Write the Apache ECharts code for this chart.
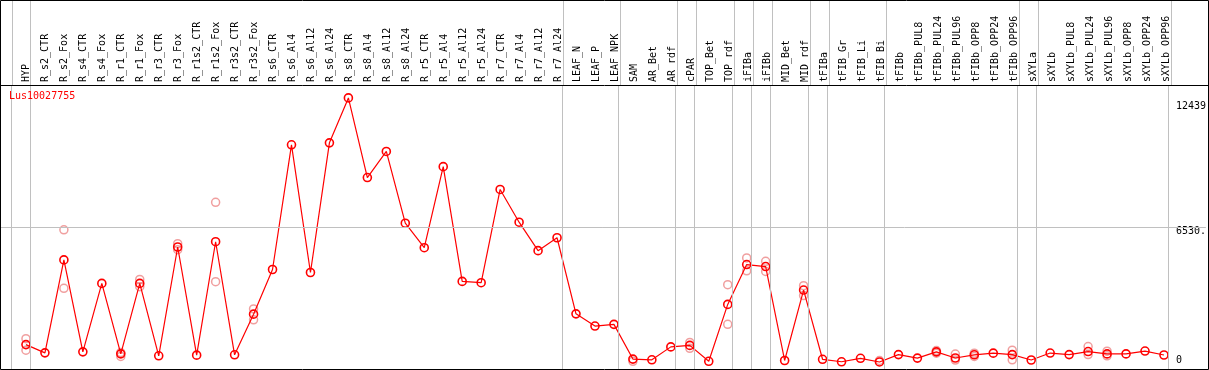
<!DOCTYPE html>
<html>
<head>
<meta charset="utf-8">
<script src="https://cdn.jsdelivr.net/npm/echarts@6/dist/echarts.min.js"></script>
<style>html,body{margin:0;padding:0;background:#fff}#c{width:1209px;height:370px}</style>
</head>
<body>
<div id="c"></div>
<script>
const geneName = 'Lus10027755';
const categories = ['HYP','R_s2_CTR','R_s2_Fox','R_s4_CTR','R_s4_Fox','R_r1_CTR','R_r1_Fox','R_r3_CTR','R_r3_Fox','R_r1s2_CTR','R_r1s2_Fox','R_r3s2_CTR','R_r3s2_Fox','R_s6_CTR','R_s6_Al4','R_s6_Al12','R_s6_Al24','R_s8_CTR','R_s8_Al4','R_s8_Al12','R_s8_Al24','R_r5_CTR','R_r5_Al4','R_r5_Al12','R_r5_Al24','R_r7_CTR','R_r7_Al4','R_r7_Al12','R_r7_Al24','LEAF_N','LEAF_P','LEAF_NPK','SAM','AR_Bet','AR_rdf','cPAR','TOP_Bet','TOP_rdf','iFIBa','iFIBb','MID_Bet','MID_rdf','tFIBa','tFIB_Gr','tFIB_Li','tFIB_Bi','tFIBb','tFIBb_PUL8','tFIBb_PUL24','tFIBb_PUL96','tFIBb_OPP8','tFIBb_OPP24','tFIBb_OPP96','sXYLa','sXYLb','sXYLb_PUL8','sXYLb_PUL24','sXYLb_PUL96','sXYLb_OPP8','sXYLb_OPP24','sXYLb_OPP96'];
const meanValues = [1161,785,5034,830,3959,739,3959,649,5623,680,5864,694,2553,4594,10294,4458,10385,12439,8798,9991,6712,5592,9297,4050,3991,8254,6757,5456,6045,2567,2009,2086,499,467,1057,1125,399,2998,4821,4730,435,3655,490,376,535,367,703,544,830,549,694,771,703,458,775,703,844,735,735,866,685];
const replicateA = [1433,null,6408,null,null,800,4140,null,5773,null,7664,null,2794,null,null,null,null,null,null,null,null,null,null,null,null,null,null,null,null,null,null,null,399,null,null,1261,null,3900,5125,4970,null,3855,null,null,null,435,null,null,889,726,771,null,907,null,null,null,1070,862,null,null,null];
const replicateB = [907,null,3732,null,null,620,3809,null,5501,null,4036,null,2295,null,null,null,null,null,null,null,null,null,null,null,null,null,null,null,null,null,null,null,null,null,null,989,null,2086,4535,4503,null,3401,null,null,null,null,null,null,771,454,617,null,467,null,null,null,707,649,null,null,null];
const groupEnds = [-1,0,28,31,34,35,37,38,39,41,42,45,52,53,60];
const tickValues = [0,6530,12439];
const tickLabels = ['0','6530.','12439'];

const FONT = 'DejaVu Sans Mono';
const xMin = -26/19, xMax = xMin + 1208/19;
const sepLines = groupEnds.map(g => ({xAxis: g + 0.25}));
const mlBase = {silent:true, symbol:'none', label:{show:false}, lineStyle:{color:'#c0c0c0', width:1, type:'solid'}, animation:false};
const repData = [];
replicateA.forEach((v,i)=>{ if(v!=null) repData.push([i,v]); });
replicateB.forEach((v,i)=>{ if(v!=null) repData.push([i,v]); });

const chart = echarts.init(document.getElementById('c'), null, {renderer:'canvas'});
chart.setOption({
  animation:false,
  backgroundColor:'#fff',
  title:{text:geneName, left:9, top:91, padding:0, textStyle:{fontFamily:FONT, fontSize:10, fontWeight:'normal', color:'#ff0000'}},
  grid:[
    {left:0, right:1, top:0, height:85},
    {left:0, right:1, top:85, bottom:-2.3}
  ],
  xAxis:[
    {gridIndex:0, type:'value', min:xMin, max:xMax, position:'bottom',
     axisLine:{show:false}, axisTick:{show:false}, splitLine:{show:false},
     axisLabel:{inside:true, rotate:90, margin:3, customValues:categories.map((c,i)=>i),
       formatter:v=>categories[Math.round(v)] || '', fontFamily:FONT, fontSize:10, color:'#000', padding:[0,0,6,0]}},
    {gridIndex:1, type:'value', min:xMin, max:xMax, show:false, splitLine:{show:false}}
  ],
  yAxis:[
    {gridIndex:0, type:'value', min:0, max:1, show:false},
    {gridIndex:1, type:'value', min:0, max:287.3/0.022051, position:'right',
     axisLine:{show:false}, axisTick:{show:false}, splitLine:{show:false},
     axisLabel:{inside:true, align:'left', margin:30, customValues:tickValues, showMinLabel:true, showMaxLabel:true,
       formatter:v=>{const k=tickValues.indexOf(v); const t=tickLabels[k]; return k===0?'{lo|'+t+'}':(k===1?'{mid|'+t+'}':'{hi|'+t+'}');},
       rich:{lo:{padding:[0,0,20,0], fontFamily:FONT, fontSize:10, color:'#000'},
             mid:{padding:[8,0,0,0], fontFamily:FONT, fontSize:10, color:'#000'},
             hi:{padding:[18,0,0,0], fontFamily:FONT, fontSize:10, color:'#000'}},
       fontFamily:FONT, fontSize:10, color:'#000'}}
  ],
  series:[
    {type:'line', xAxisIndex:0, yAxisIndex:0, data:[], markLine:Object.assign({}, mlBase, {data:sepLines})},
    {type:'line', xAxisIndex:1, yAxisIndex:1, data:[], markLine:Object.assign({}, mlBase, {data:sepLines.concat([{yAxis:6530}])})},
    {type:'scatter', xAxisIndex:1, yAxisIndex:1, data:repData, symbol:'circle', symbolSize:8, z:3,
     itemStyle:{color:'rgba(0,0,0,0)', borderColor:'rgba(232,105,105,0.8)', borderWidth:1.5}},
    {type:'line', xAxisIndex:1, yAxisIndex:1, data:meanValues.map((v,i)=>[i,v]), symbol:'circle', symbolSize:8, z:4,
     lineStyle:{color:'#ff0000', width:1.2}, itemStyle:{color:'rgba(0,0,0,0)', borderColor:'#ff0000', borderWidth:1.6}}
  ],
  graphic:[
    {type:'rect', shape:{x:0.5, y:0.5, width:1208, height:369}, style:{fill:null, stroke:'#000', lineWidth:1}, z:100, silent:true},
    {type:'line', shape:{x1:0, y1:85.5, x2:1209, y2:85.5}, style:{stroke:'#000', lineWidth:1}, z:100, silent:true}
  ]
});
</script>
</body>
</html>
